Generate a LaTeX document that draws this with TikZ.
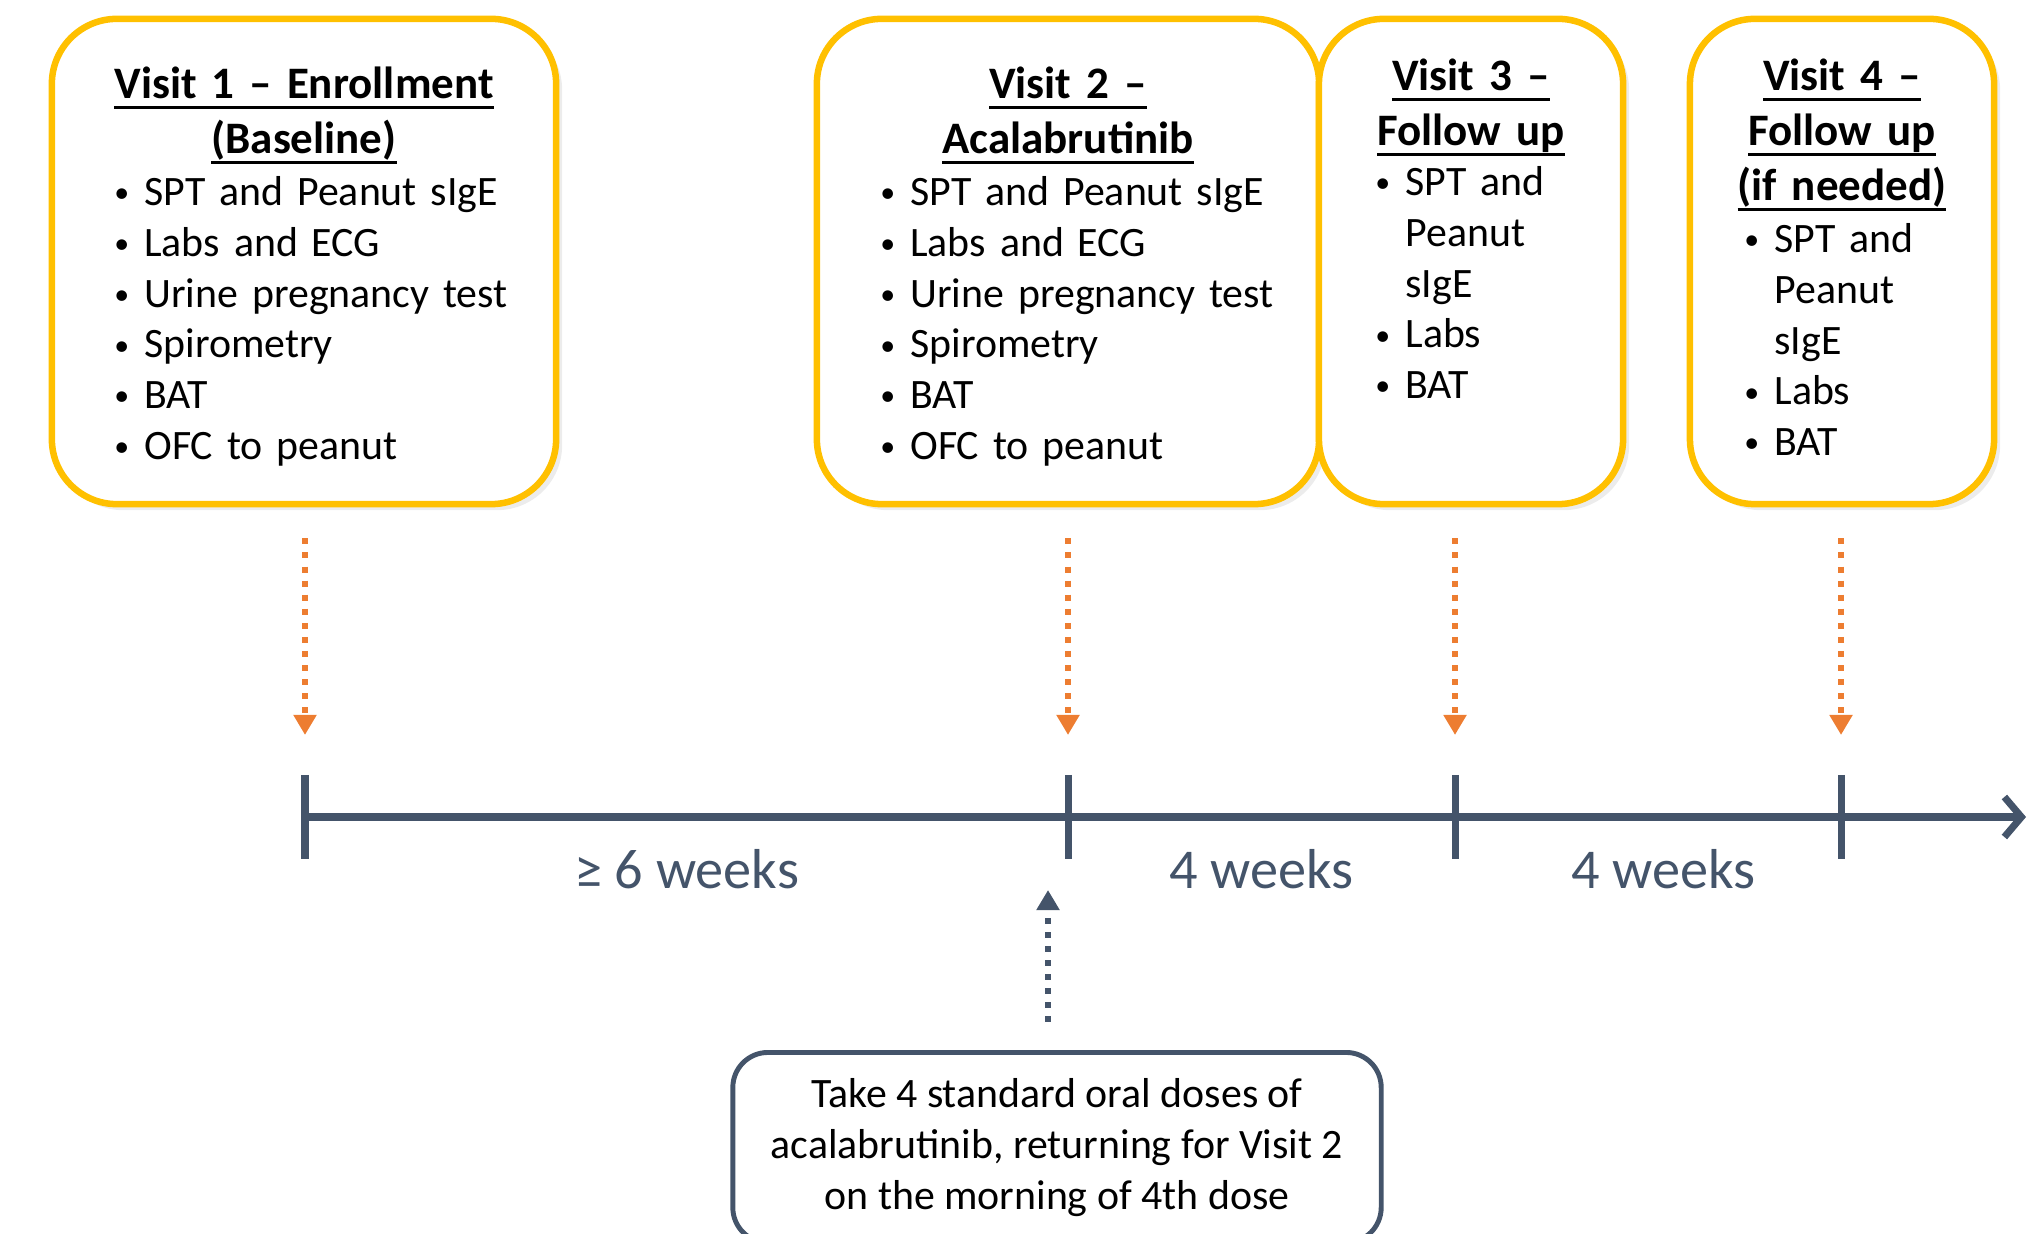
\documentclass[tikz,border=0pt]{standalone}
\usepackage{fontspec}
\setmainfont{Carlito}
\usetikzlibrary{arrows.meta, positioning, shadows}
\definecolor{visitgold}{HTML}{FFC000}
\definecolor{slate}{HTML}{44546A}
\definecolor{dotorange}{HTML}{ED7D31}
\newcommand{\uln}[1]{\leavevmode\setbox0=\hbox{#1}\rlap{\rule[-0.1cm]{\wd0}{0.03cm}}\box0}
\newcommand{\bul}{\makebox[0.30cm][l]{\raisebox{0.07em}{\fontsize{8.5}{8.5}\selectfont\textbullet}}}
\newcommand{\nobul}{\hspace*{0.30cm}}
\tikzstyle{visitbox} = [draw=visitgold, line width=1.85pt, rounded corners=0.65cm, fill=white, minimum height=4.85cm, drop shadow={opacity=0.15, shadow xshift=0.06cm, shadow yshift=-0.06cm}]
\tikzstyle{visittitle} = [font=\bfseries\fontsize{12.8}{15.65}\selectfont, align=center, anchor=base, inner sep=0pt]
\tikzstyle{visitlist} = [font=\fontsize{11.9}{14.43}\selectfont, align=left, anchor=base west, inner sep=0pt]
\tikzstyle{timeline} = [draw=slate, line width=2pt]
\tikzstyle{visitarrow} = [draw=dotorange, line width=1.7pt, dash pattern=on 1.7pt off 2.3pt, -{Triangle[length=0.2cm, width=0.22cm]}]
\tikzstyle{dosearrow} = [visitarrow, draw=slate]
\tikzstyle{weeklabel} = [font=\fontsize{16}{19}\selectfont, text=slate, anchor=base, inner sep=0pt]
\tikzstyle{notebox} = [draw=slate, line width=1.4pt, rounded corners=0.35cm, align=center, minimum width=6.48cm, minimum height=1.9cm, font=\fontsize{11.9}{14.43}\selectfont]

\begin{document}
\begin{tikzpicture}[x=0.01cm, y=0.01cm]
\useasboundingbox (0,0) rectangle (2028,1233);

% visit boxes
\node[visitbox, minimum width=5.04cm] (v1) at (304,971.5) {};
\node[visitbox, minimum width=5.02cm] (v2) at (1068,971.5) {};
\node[visitbox, minimum width=3.04cm] (v3) at (1471,971.5) {};
\node[visitbox, minimum width=3.04cm] (v4) at (1842,971.5) {};

\node[visittitle, text width=5cm] (v1t) at ([yshift=-0.83cm]v1.north) {\uln{Visit 1 -- Enrollment}\\\uln{(Baseline)}};
\node[visittitle, text width=5cm] (v2t) at ([yshift=-0.83cm]v2.north) {\uln{Visit 2 --}\\\uln{Acalabrutinib}};
\node[visittitle, text width=3cm] (v3t) at ([yshift=-0.75cm]v3.north) {\uln{Visit 3 --}\\\uln{Follow up}};
\node[visittitle, text width=3cm] (v4t) at ([yshift=-0.75cm]v4.north) {\uln{Visit 4 --}\\\uln{Follow up}\\\uln{(if needed)}};

\node[visitlist, text width=4.2cm] (v1l) at ([xshift=0.65cm, yshift=-1.90cm]v1.north west) {\bul SPT and Peanut sIgE\\\bul Labs and ECG\\\bul Urine pregnancy test\\\bul Spirometry\\\bul BAT\\\bul OFC to peanut};
\node[visitlist, text width=4.2cm] (v2l) at ([xshift=0.66cm, yshift=-1.90cm]v2.north west) {\bul SPT and Peanut sIgE\\\bul Labs and ECG\\\bul Urine pregnancy test\\\bul Spirometry\\\bul BAT\\\bul OFC to peanut};
\node[visitlist, text width=2.2cm] (v3l) at ([xshift=0.59cm, yshift=-1.80cm]v3.north west) {\bul SPT and\\\nobul Peanut\\\nobul sIgE\\\bul Labs\\\bul BAT};
\node[visitlist, text width=2.2cm] (v4l) at ([xshift=0.57cm, yshift=-2.37cm]v4.north west) {\bul SPT and\\\nobul Peanut\\\nobul sIgE\\\bul Labs\\\bul BAT};

% timeline
\coordinate (t1) at (305,416);
\coordinate (t2) at (1068,416);
\coordinate (t3) at (1455,416);
\coordinate (t4) at (1841,416);
\coordinate (tend) at (2026,416);
\draw[timeline, -{Straight Barb[length=0.17cm, width=0.4cm]}] (t1) -- (tend);
\foreach \t in {t1,t2,t3,t4}
  \draw[timeline] ([yshift=0.42cm]\t) -- ([yshift=-0.42cm]\t);

\path (t1) -- (t2) node[weeklabel, midway, yshift=-0.71cm] (w1) {≥ 6 weeks};
\path (t2) -- (t3) node[weeklabel, midway, yshift=-0.71cm] (w2) {4 weeks};
\path (t3) -- (t4) node[weeklabel, midway, yshift=-0.71cm, xshift=0.15cm] (w3) {4 weeks};

% visit arrows
\draw[visitarrow, shorten <=0.31cm] (t1 |- v1.south) -- ([yshift=0.82cm]t1);
\draw[visitarrow, shorten <=0.31cm] (t2 |- v2.south) -- ([yshift=0.82cm]t2);
\draw[visitarrow, shorten <=0.31cm] (t3 |- v3.south) -- ([yshift=0.82cm]t3);
\draw[visitarrow, shorten <=0.31cm] (t4 |- v4.south) -- ([yshift=0.82cm]t4);

% dosing note
\coordinate (dose) at (1048,343);
\node[notebox, anchor=north] (note) at (1057,183) {Take 4 standard oral doses of\\acalabrutinib, returning for Visit 2\\on the morning of 4th dose};
\draw[dosearrow, shorten <=0.28cm] (dose |- note.north) -- (dose);
\end{tikzpicture}
\end{document}
